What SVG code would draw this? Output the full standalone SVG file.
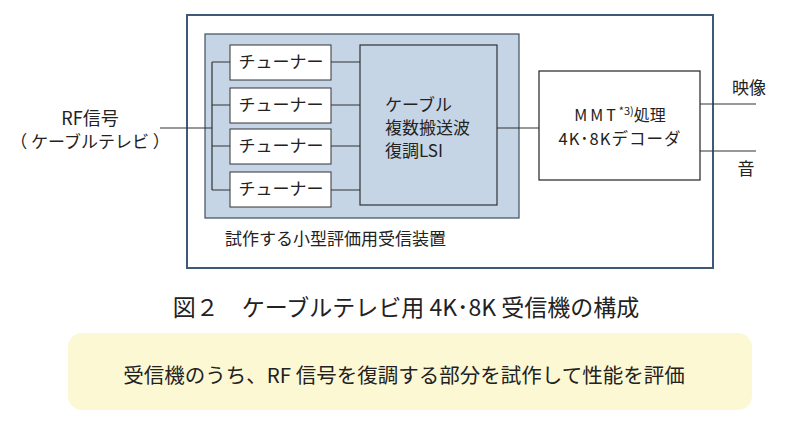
<svg xmlns="http://www.w3.org/2000/svg" width="800" height="423" viewBox="0 0 800 423">
<style>
text{font-family:"Noto Sans CJK JP","Liberation Sans",sans-serif;fill:#222}
.b{fill:#fff;stroke:#222;stroke-width:1.2}
.t{fill:#fff;stroke:#333;stroke-width:1}
.l{stroke:#333;stroke-width:1.2;fill:none}
</style>
<rect width="800" height="423" fill="#fff"/>
<g id="outer"><rect x="187" y="15" width="526" height="253" fill="#fff" stroke="#3f5a78" stroke-width="2"/></g>
<g id="device"><rect x="205" y="34" width="314" height="184" fill="#c5d5e6" stroke="#3f4f60" stroke-width="1.2"/>
<text x="225" y="245" font-size="17">試作する小型評価用受信装置</text></g>
<g id="connectors">
<path class="l" d="M160 128H212M212 62V190M212 62H230M212 105H230M212 146H230M212 190H230M331 62H360M331 105H360M331 146H360M331 190H360M497 128H539M700 104H756M700 151H756"/>
</g>
<g id="t1"><rect class="t" x="230" y="45" width="101" height="35"/><text x="281" y="68" font-size="17" text-anchor="middle">チューナー</text></g>
<g id="t2"><rect class="t" x="230" y="88" width="101" height="35"/><text x="281" y="111" font-size="17" text-anchor="middle">チューナー</text></g>
<g id="t3"><rect class="t" x="230" y="129" width="101" height="35"/><text x="281" y="152" font-size="17" text-anchor="middle">チューナー</text></g>
<g id="t4"><rect class="t" x="230" y="172" width="101" height="35"/><text x="281" y="195" font-size="17" text-anchor="middle">チューナー</text></g>
<g id="lsi"><rect x="360" y="45" width="137" height="160" fill="#c5d5e6" stroke="#333" stroke-width="1.2"/>
<text x="385" y="111" font-size="17">ケーブル</text>
<text x="385" y="134" font-size="17">複数搬送波</text>
<text x="385" y="157" font-size="17">復調LSI</text></g>
<g id="mmt"><rect class="b" x="539" y="71" width="161" height="109"/>
<text x="620" y="121" font-size="16" text-anchor="middle" letter-spacing="3">MMT<tspan font-size="11" dy="-6" letter-spacing="0">*3)</tspan><tspan dy="6" letter-spacing="0">処理</tspan></text>
<text x="620" y="145" font-size="16.5" text-anchor="middle" letter-spacing="1">4K･8Kデコーダ</text></g>
<g id="rf"><text x="90" y="125" font-size="18" text-anchor="middle">RF信号</text><text x="90" y="148" font-size="17" text-anchor="middle">（ ケーブルテレビ ）</text></g>
<text x="749" y="94" font-size="17" text-anchor="middle">映像</text>
<text x="746" y="175" font-size="17" text-anchor="middle">音</text>
<text x="406" y="316" font-size="23" text-anchor="middle">図２　ケーブルテレビ用 4K･8K 受信機の構成</text>
<g id="note"><rect x="68" y="333" width="684" height="77" rx="14" fill="#fdf8d4"/>
<text x="404" y="383" font-size="20.5" text-anchor="middle">受信機のうち、RF 信号を復調する部分を試作して性能を評価</text></g>
</svg>
